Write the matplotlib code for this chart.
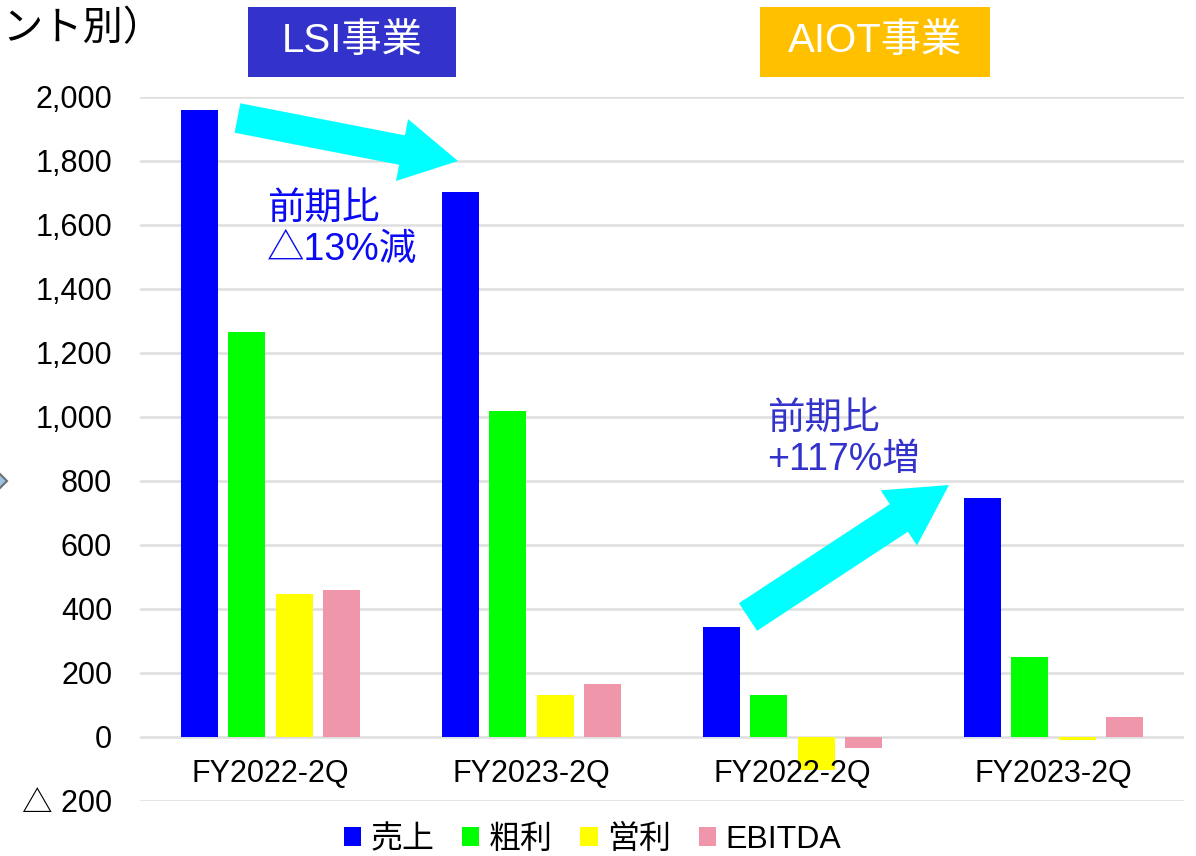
import matplotlib
matplotlib.use("Agg")
import matplotlib.pyplot as plt
import numpy as np
from matplotlib.patches import Polygon, Rectangle
from matplotlib.ticker import FuncFormatter, MultipleLocator

plt.rcParams['font.family'] = ['Liberation Sans', 'Noto Sans CJK JP']

# ---- data ----
categories = ['FY2022-2Q', 'FY2023-2Q', 'FY2022-2Q', 'FY2023-2Q']
series_names = ['売上', '粗利', '営利', 'EBITDA']
sales = [1958, 1703, 344, 747]
gross = [1266, 1019, 131, 250]
op_profit = [447, 131, -103, -8]
ebitda = [459, 166, -34, 62]
colors = ['#0000FF', '#00FF00', '#FFFF00', '#EF96AA']

W, H = 1196, 856
fig = plt.figure(figsize=(W / 100, H / 100), dpi=100)
ax = fig.add_axes([140 / W, 55 / H, 1044 / W, 704 / H])

x = np.arange(len(categories))
bw = 0.142
pitch = 0.1815
series = [sales, gross, op_profit, ebitda]
handles = []
for k, (vals, c) in enumerate(zip(series, colors)):
    b = ax.bar(x + (k - 1.5) * pitch, vals, width=bw, color=c, zorder=3, linewidth=0)
    handles.append(b)

ax.set_xlim(-0.5, len(categories) - 0.5)
ax.set_ylim(-200, 2000)
ax.yaxis.set_major_locator(MultipleLocator(200))
ax.yaxis.set_major_formatter(FuncFormatter(
    lambda v, p: f'{v:,.0f}' if v >= 0 else f'△ {abs(v):,.0f}'))
ax.tick_params(axis='y', length=0, pad=20, labelsize=22)
ax.set_xticks([])
ax.grid(axis='y', color='#DEDEDE', linewidth=1.8, zorder=0)
for s in ax.spines.values():
    s.set_visible(False)

for i, cat in enumerate(categories):
    ax.text(i, -115, cat, ha='center', va='center', fontsize=22, zorder=5)

# ---- helpers in pixel space ----
def fx(px):
    return px / W

def fy(py):
    return 1 - py / H

def arrow_poly(tail, tip, shaft_w, head_w, head_len):
    t = np.array(tail, float)
    p = np.array(tip, float)
    d = p - t
    L = np.hypot(*d)
    u = d / L
    n = np.array([-u[1], u[0]])
    base = p - u * head_len
    pts = [t + n * shaft_w / 2, base + n * shaft_w / 2, base + n * head_w / 2, p,
           base - n * head_w / 2, base - n * shaft_w / 2, t - n * shaft_w / 2]
    return [(fx(q[0]), fy(q[1])) for q in pts]

for tail, tip, sw, hw, hl in [((237.5, 118), (458, 161), 30, 63, 57),
                              ((748, 617), (949, 485), 33, 66, 60)]:
    fig.patches.append(Polygon(arrow_poly(tail, tip, sw, hw, hl), closed=True,
                               facecolor='#00FFFF', edgecolor='none',
                               transform=fig.transFigure, zorder=6))

# segment boxes
for (x0, x1, fc, label) in [(248, 456, '#3333CC', 'LSI事業'), (760, 990, '#FFC000', 'AIOT事業')]:
    fig.patches.append(Rectangle((fx(x0), fy(77)), (x1 - x0) / W, 70 / H,
                                 facecolor=fc, edgecolor='none', transform=fig.transFigure))
    fig.text(fx((x0 + x1) / 2), fy(41), label, color='white', fontsize=29,
             ha='center', va='center')

# title fragment
fig.text(fx(2), fy(29), 'ント別）', fontsize=29, ha='left', va='center')

# left diamond marker (cut off)
cx, cy, r = -5, 481, 12
fig.patches.append(Polygon([(fx(cx - r), fy(cy)), (fx(cx), fy(cy - r)),
                            (fx(cx + r), fy(cy)), (fx(cx), fy(cy + r))],
                           closed=True, facecolor='#9DC3E6', edgecolor='#707070',
                           linewidth=1.5, transform=fig.transFigure))

# annotations
fig.text(fx(267), fy(192), '前期比\n△13%減', color='#0A0AF5', fontsize=27,
         ha='left', va='top', linespacing=1.15)
fig.text(fx(767), fy(402), '前期比\n+117%増', color='#3333CC', fontsize=27,
         ha='left', va='top', linespacing=1.15)

fig.legend(handles, series_names, ncol=4, loc='center',
           bbox_to_anchor=(0.4954, fy(840)), frameon=False, fontsize=23,
           handlelength=0.55, handleheight=0.55, handletextpad=0.3,
           columnspacing=0.85, borderpad=0)

fig.savefig('out.png', dpi=100, facecolor='white')
